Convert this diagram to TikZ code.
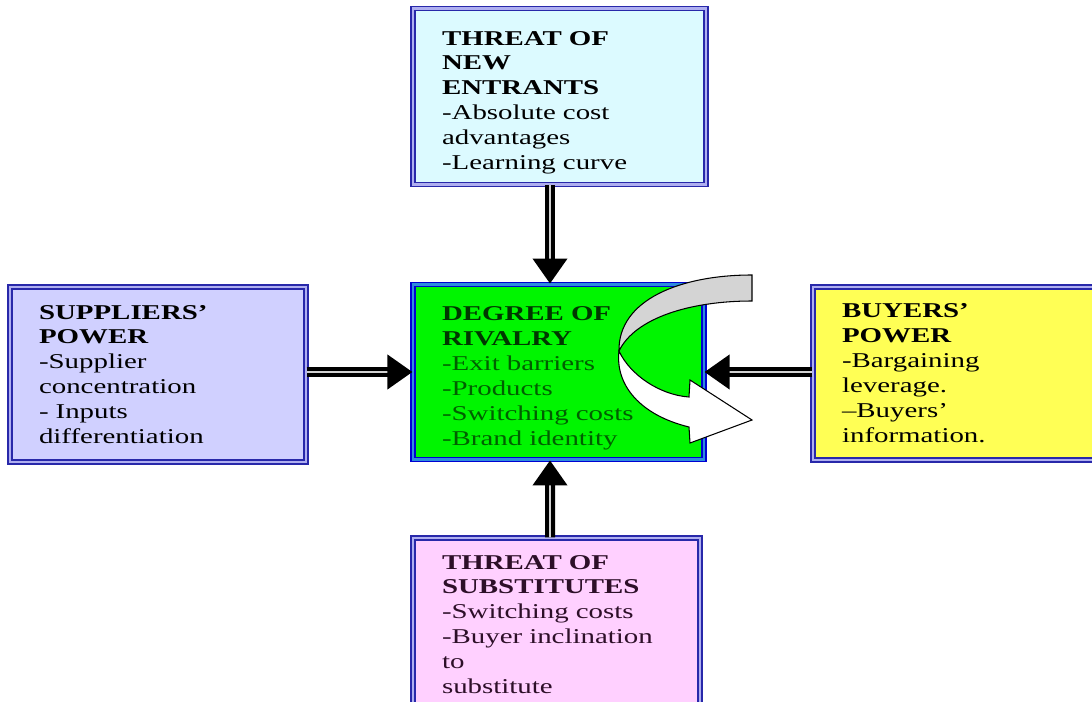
\documentclass[tikz,border=0pt]{standalone}
\usepackage{fontspec}
\setmainfont{Liberation Serif}[FakeStretch=1.37]
\usetikzlibrary{arrows.meta}
\definecolor{BoxBlue}{RGB}{40,40,170}
\definecolor{BoxGap}{RGB}{175,175,240}
\definecolor{RivalryEdge}{RGB}{0,0,210}
\definecolor{RivalryBand}{RGB}{45,140,220}
\definecolor{EntrantFill}{RGB}{220,250,255}
\definecolor{SupplierFill}{RGB}{208,208,255}
\definecolor{RivalryFill}{RGB}{0,245,0}
\definecolor{BuyerFill}{RGB}{255,255,85}
\definecolor{SubstituteFill}{RGB}{255,208,255}
\definecolor{RivalryText}{RGB}{0,95,0}
\definecolor{RivalryTitle}{RGB}{0,55,0}
\definecolor{RibbonGray}{RGB}{212,212,212}

\begin{document}
\begin{tikzpicture}[x=0.02cm,y=-0.02cm,
    box/.style={draw=BoxBlue,double=BoxGap,double distance=1.6pt,line width=0.7pt,
        align=left,inner xsep=0.58cm,inner ysep=0.2cm,minimum height=3.46cm,
        font=\fontsize{12}{14.2}\selectfont},
    lowtext/.style={execute at begin node={\rule{0pt}{15pt}}},
    force/.style={draw=black,line width=2.4pt,double=gray!35,double distance=0.9pt,
        -{Triangle[length=0.5cm,width=0.68cm]}},
    ribbon/.style={draw=black,line width=0.6pt}]

    % Frame of the whole picture
    \useasboundingbox (0,0) rectangle (1092,702);

    % The five forces
    \node[box,lowtext,fill=EntrantFill,minimum width=5.86cm,text width=4.7cm] (entrants) at (559.5,96.5)
        {\textbf{THREAT OF}\\\textbf{NEW}\\\textbf{ENTRANTS}\\-Absolute cost\\advantages\\-Learning curve};
    \node[box,fill=SupplierFill,minimum width=5.92cm,text width=4.76cm,minimum height=3.5cm] (suppliers) at (158,374.5)
        {\textbf{SUPPLIERS’}\\\textbf{POWER}\\-Supplier\\concentration\\- Inputs\\differentiation};
    \node[box,lowtext,fill=RivalryFill,draw=RivalryEdge,double=RivalryBand,minimum width=5.82cm,text width=4.66cm,
        minimum height=3.4cm,text=RivalryText] (rivalry) at (558.5,372)
        {\textcolor{RivalryTitle}{\textbf{DEGREE OF}}\\\textcolor{RivalryTitle}{\textbf{RIVALRY}}\\-Exit barriers\\-Products\\-Switching costs\\-Brand identity};
    \node[box,fill=BuyerFill,minimum width=5.86cm,text width=4.7cm] (buyers) at (959.5,373.5)
        {\textbf{BUYERS’}\\\textbf{POWER}\\-Bargaining\\leverage.\\–Buyers’\\information.};
    \node[box,fill=SubstituteFill,minimum width=5.74cm,text width=4.58cm,text={rgb,255:red,45;green,15;blue,40}] (substitutes) at (556.5,624.5)
        {\textbf{THREAT OF}\\\textbf{SUBSTITUTES}\\-Switching costs\\-Buyer inclination\\to\\substitute};

    % Turning ribbon inside the rivalry box
    \path[ribbon,fill=RibbonGray] (752,275) -- (752,301)
        .. controls (690,301) and (635,318) .. (619,351)
        .. controls (618,300) and (680,275) .. (752,275) -- cycle;
    \path[ribbon,fill=white] (619,351) .. controls (630,375) and (660,395) .. (689,397)
        -- (690,380) -- (752,420) -- (690,443) -- (689,427)
        .. controls (640,415) and (615,385) .. (619,351) -- cycle;

    % Arrows towards the rivalry box
    \draw[force] ([xshift=-0.19cm]entrants.south) -- ([xshift=-0.17cm]rivalry.north);
    \draw[force] ([xshift=-0.13cm]substitutes.north) -- ([xshift=-0.17cm]rivalry.south);
    \draw[force] (suppliers.east |- rivalry.west) -- (rivalry.west);
    \draw[force] (buyers.west |- rivalry.east) -- (rivalry.east);

\end{tikzpicture}
\end{document}
